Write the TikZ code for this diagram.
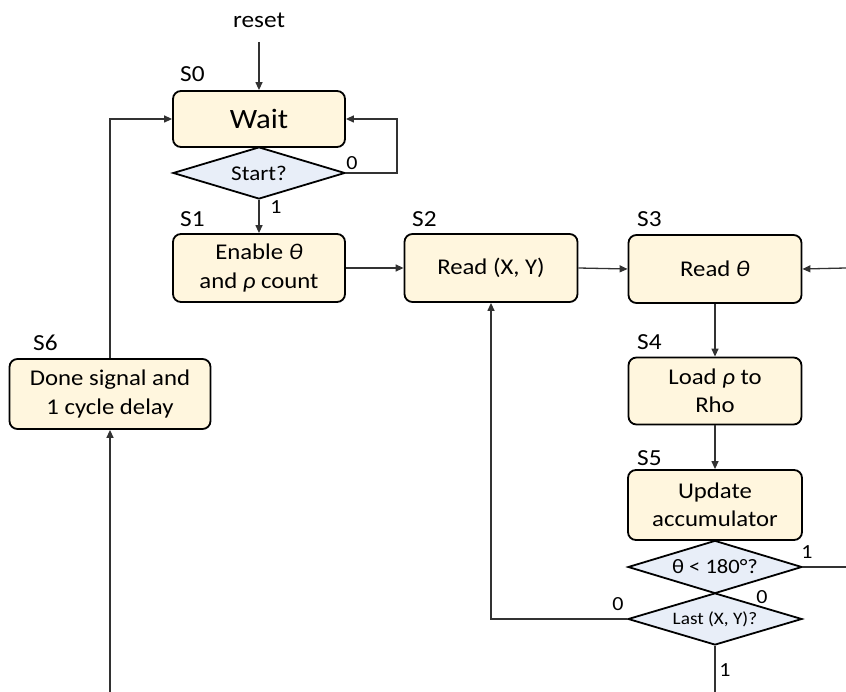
\documentclass[tikz,border=0pt]{standalone}
\usepackage{fontspec}
\setmainfont{Carlito}[FakeStretch=1.1]
\usetikzlibrary{arrows.meta,shapes.geometric}
\definecolor{boxfill}{RGB}{255,246,222}
\definecolor{diafill}{RGB}{232,238,248}
\definecolor{wirec}{RGB}{50,50,50}
\begin{document}
\begin{tikzpicture}[x=1pt,y=-1pt,
  statebox/.style={draw=black, line width=1.8pt, rounded corners=8pt, fill=boxfill,
    minimum width=172pt, minimum height=68pt, align=center, inner sep=0pt,
    font=\fontsize{22.5}{28.5}\selectfont},
  decision/.style={draw=black, line width=1.8pt, diamond, aspect=3.3, fill=diafill,
    minimum width=172pt, minimum height=52pt, inner sep=0pt},
  wire/.style={draw=wirec, line width=1.3pt},
  arr/.style={wire, -{Triangle[length=8pt,width=7pt]}},
  slabel/.style={anchor=base west, inner sep=0pt, font=\fontsize{23}{26}\selectfont},
  bitlabel/.style={inner sep=0pt, font=\fontsize{20}{22}\selectfont},
]
\useasboundingbox (0,0) rectangle (846,692);

% states
\node[statebox, minimum height=56pt, font=\fontsize{28}{32}\selectfont] (wait) at (259,119) {Wait};
\node[decision, font=\fontsize{21}{24}\selectfont] (start) at (259,173) {Start?};
\node[statebox] (s1) at (259,268) {Enable {\itshape θ}\\and {\itshape ρ} count};
\node[statebox, minimum width=173pt] (s2) at (491,268) {Read (X, Y)};
\node[statebox, minimum width=173pt] (s3) at (715,269) {Read {\itshape θ}};
\node[statebox, minimum width=173pt, minimum height=67pt] (s4) at (715,391) {Load {\itshape ρ} to\\Rho};
\node[statebox, minimum width=174pt, minimum height=70pt] (s5) at (715,505) {Update\\accumulator};
\node[decision, minimum width=174pt, minimum height=53pt, font=\fontsize{20.5}{24}\selectfont] (theta) at (715,567) {θ < 180°?};
\node[decision, minimum width=174pt, font=\fontsize{17.5}{20}\selectfont] (last) at (715,619) {Last (X, Y)?};
\node[statebox, minimum width=201pt, minimum height=70pt] (s6) at (110,394) {Done signal and\\1 cycle delay};

% state labels
\node[slabel] (l0) at (180,82) {S0};
\node[slabel] (l1) at (180,227) {S1};
\node[slabel] (l2) at (412,227) {S2};
\node[slabel] (l3) at (637,227) {S3};
\node[slabel] (l4) at (637,350) {S4};
\node[slabel] (l5) at (637,465) {S5};
\node[slabel] (l6) at (33,351) {S6};

% reset
\node[inner sep=0pt, font=\fontsize{23}{26}\selectfont] (reset) at (259,20) {reset};
\coordinate (resetend) at (259,42);
\draw[arr] (resetend) -- (wait.north);

% edge coordinates
\coordinate (rin) at (846,268);
\coordinate (rout) at (846,567);
\coordinate (bout) at (715,692);
\coordinate (bin) at (110,692);
\coordinate (loopc) at (397,173);

% connectors
\draw[arr] (start.east) -- (loopc) |- (wait.east);
\draw[arr] (start.south) -- (s1.north);
\draw[arr] (s1.east) -- (s2.west);
\draw[arr] (s2.east) -- (s3.west);
\draw[arr] (rin) -- (s3.east);
\draw[arr] (s3.south) -- (s4.north);
\draw[arr] (s4.south) -- (s5.north);
\draw[wire] (theta.east) -- (rout);
\draw[arr] (last.west) -| (s2.south);
\draw[wire] (last.south) -- (bout);
\draw[arr] (bin) -- (s6.south);
\draw[arr] (s6.north) |- (wait.west);

% bit labels
\node[bitlabel] (b0a) at (352,163) {0};
\node[bitlabel] (b1a) at (276,207) {1};
\node[bitlabel] (b1b) at (807,552) {1};
\node[bitlabel] (b0b) at (762,597) {0};
\node[bitlabel] (b0c) at (618,604) {0};
\node[bitlabel] (b1c) at (725,670) {1};
\end{tikzpicture}
\end{document}
